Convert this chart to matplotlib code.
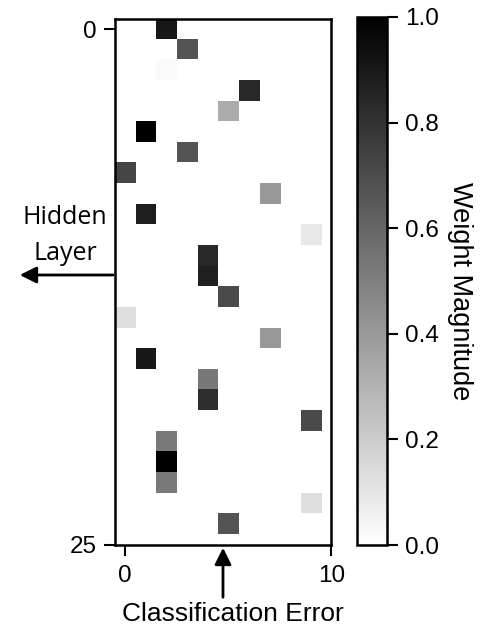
import numpy as np
import matplotlib
matplotlib.use("Agg")
import matplotlib.pyplot as plt

# Non-zero cells of the 25 x 10 weight matrix
rows = [0, 1, 2, 3, 4, 5, 6, 7, 8, 9, 10, 11, 12, 13, 14, 15, 16, 17, 18, 19, 20, 21, 22, 23, 24]
cols = [2, 3, 2, 6, 5, 1, 3, 0, 7, 1, 9, 4, 4, 5, 0, 7, 1, 4, 4, 9, 2, 2, 2, 9, 5]
vals = [0.91, 0.67, 0.02, 0.84, 0.33, 1.0, 0.67, 0.73, 0.40, 0.88, 0.09, 0.84, 0.87,
        0.71, 0.13, 0.40, 0.90, 0.53, 0.82, 0.71, 0.52, 1.0, 0.52, 0.13, 0.67]
n_rows, n_cols = 25, 10
x_ticks = [0, 10]
y_ticks = [0, 25]
cbar_ticks = [0.0, 0.2, 0.4, 0.6, 0.8, 1.0]

W = np.zeros((n_rows, n_cols))
for r, c, v in zip(rows, cols, vals):
    W[r, c] = v

plt.rcParams['font.family'] = ['Liberation Sans', 'DejaVu Sans']

fig = plt.figure(figsize=(4.88, 6.28), dpi=100)
ax = fig.add_axes([0.235, 0.1327, 0.444, 0.837])
im = ax.imshow(W, cmap='gray_r', vmin=0, vmax=1, interpolation='nearest', aspect='equal')
ax.set_xlim(-0.5, 10)
ax.set_ylim(25, -0.5)
ax.set_xticks(x_ticks)
ax.set_yticks(y_ticks)
ax.tick_params(labelsize=17.5, width=1.5, length=8, pad=5)
ax.tick_params(axis='x', pad=7)
for s in ax.spines.values():
    s.set_linewidth(1.8)

cax = fig.add_axes([0.7316, 0.132, 0.0615, 0.841])
cb = fig.colorbar(im, cax=cax, ticks=cbar_ticks)
cb.ax.tick_params(labelsize=17.5, width=1.5, length=8, pad=5)
cb.outline.set_linewidth(1.8)
fig.text(460 / 488, 1 - 291 / 628, 'Weight Magnitude', rotation=270, fontsize=19.5,
         ha='center', va='center', family=['Liberation Sans'])

# Hidden layer annotation
fig.text(65 / 488, 1 - 217 / 628, 'Hidden', ha='center', va='center', fontsize=18,
         family=['Open Sans', 'DejaVu Sans'])
fig.text(65 / 488, 1 - 253 / 628, 'Layer', ha='center', va='center', fontsize=18,
         family=['Open Sans', 'DejaVu Sans'])
fig.add_artist(matplotlib.patches.FancyArrowPatch(
    (116 / 488, 1 - 275 / 628), (17 / 488, 1 - 275 / 628),
    transform=fig.transFigure, arrowstyle='-|>', mutation_scale=25,
    lw=2, color='black'))

# Classification error annotation
fig.text(233 / 488, 1 - 614 / 628, 'Classification Error', ha='center', va='center',
         fontsize=19, family=['Liberation Sans'])
fig.add_artist(matplotlib.patches.FancyArrowPatch(
    (223 / 488, 1 - 600 / 628), (223 / 488, 1 - 545 / 628),
    transform=fig.transFigure, arrowstyle='-|>', mutation_scale=25,
    lw=2, color='black'))

fig.savefig('out.png', dpi=100)
